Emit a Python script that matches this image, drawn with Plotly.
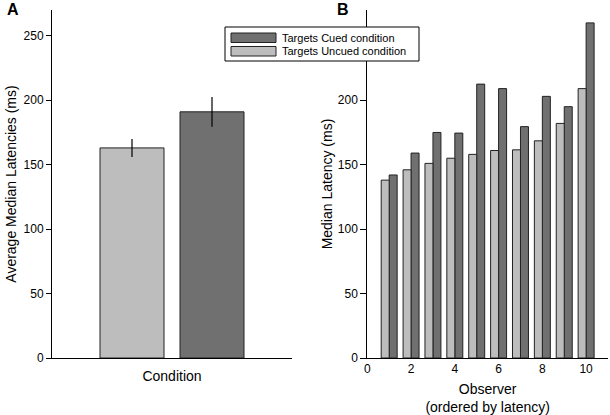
import plotly.graph_objects as go

# Panel A data
conditions = [1, 2]
avg_latency = [163, 191]
avg_err = [7, 11.5]

# Panel B data
observers = [1, 2, 3, 4, 5, 6, 7, 8, 9, 10]
uncued = [138, 146, 151, 155, 158, 161, 161.5, 168.5, 182, 209]
cued = [142, 159, 175, 174.5, 212.5, 209, 179.5, 203, 195, 260]
b_ticks = [0, 2, 4, 6, 8, 10]
y_ticks_a = [0, 50, 100, 150, 200, 250]
y_ticks_b = [0, 50, 100, 150, 200]  # 250 is hidden under the legend
legend_labels = ["Targets Cued condition", "Targets Uncued condition"]

LIGHT = "#bdbdbd"
DARK = "#707070"
EDGE = "#222222"
FONT = "Liberation Sans, Arial, sans-serif"

fig = go.Figure()

fig.add_trace(go.Bar(
    x=conditions, y=avg_latency, width=0.8,
    marker=dict(color=[LIGHT, DARK], line=dict(color=EDGE, width=1)),
    error_y=dict(type="data", array=avg_err, color="black", thickness=1.2, width=0),
    showlegend=False, xaxis="x", yaxis="y",
))

fig.add_trace(go.Bar(
    x=observers, y=cued, width=0.365, offset=0,
    name=legend_labels[0], showlegend=False,
    marker=dict(color=DARK, line=dict(color=EDGE, width=1)),
    xaxis="x2", yaxis="y2",
))
fig.add_trace(go.Bar(
    x=observers, y=uncued, width=0.365, offset=-0.365,
    name=legend_labels[1], showlegend=False,
    marker=dict(color=LIGHT, line=dict(color=EDGE, width=1)),
    xaxis="x2", yaxis="y2",
))

W, H = 610, 415
y_dom = [57 / H, 405 / H]

axis_common = dict(showgrid=False, zeroline=False, showline=True, automargin=False,
                   linecolor="black", linewidth=1,
                   tickfont=dict(size=12, color="black", family=FONT))

# manual legend (box + swatches + labels), in paper coordinates
def px(x):
    return x / W

def py(y):
    return 1 - y / H

shapes = [
    dict(type="rect", xref="paper", yref="paper", layer="above",
         x0=px(225), x1=px(419), y0=py(61), y1=py(27),
         fillcolor="white", line=dict(color="black", width=1)),
    dict(type="rect", xref="paper", yref="paper", layer="above",
         x0=px(231), x1=px(276), y0=py(42.5), y1=py(33),
         fillcolor=DARK, line=dict(color=EDGE, width=1)),
    dict(type="rect", xref="paper", yref="paper", layer="above",
         x0=px(231), x1=px(276), y0=py(56), y1=py(46.5),
         fillcolor=LIGHT, line=dict(color=EDGE, width=1)),
]

annotations = [
    dict(text="<b>A</b>", x=px(13), y=py(10), xref="paper", yref="paper",
         showarrow=False, font=dict(size=16, family=FONT), xanchor="center", yanchor="middle"),
    dict(text="<b>B</b>", x=px(342.5), y=py(9.5), xref="paper", yref="paper",
         showarrow=False, font=dict(size=16, family=FONT), xanchor="center", yanchor="middle"),
    dict(text=legend_labels[0], x=px(280), y=py(37.8), xref="paper", yref="paper",
         showarrow=False, font=dict(size=11, family=FONT), xanchor="left", yanchor="middle"),
    dict(text=legend_labels[1], x=px(280), y=py(51.5), xref="paper", yref="paper",
         showarrow=False, font=dict(size=11, family=FONT), xanchor="left", yanchor="middle"),
]

fig.update_layout(
    width=W, height=H,
    margin=dict(l=0, r=0, t=0, b=0),
    paper_bgcolor="white", plot_bgcolor="white",
    font=dict(family=FONT, color="black"),
    barmode="overlay",
    showlegend=False,
    xaxis=dict(domain=[px(52), px(292)], range=[0, 3], showticklabels=False,
               ticks="", anchor="y",
               title=dict(text="Condition", font=dict(size=14), standoff=13),
               **axis_common),
    yaxis=dict(domain=y_dom, range=[0, 270], tickvals=y_ticks_a, ticks="outside",
               ticklen=5, tickcolor="black", anchor="x",
               title=dict(text="Average Median Latencies (ms)", font=dict(size=14), standoff=3),
               **axis_common),
    xaxis2=dict(domain=[px(367.3), px(608)], range=[0, 11], tickvals=b_ticks,
                ticks="", anchor="y2",
                title=dict(text="Observer<br>(ordered by latency)", font=dict(size=14), standoff=9),
                **axis_common),
    yaxis2=dict(domain=y_dom, range=[0, 270], tickvals=y_ticks_b, ticks="outside",
                ticklen=6, tickcolor="black", anchor="x2",
                title=dict(text="Median Latency (ms)", font=dict(size=14), standoff=1),
                **axis_common),
    shapes=shapes,
    annotations=annotations,
)

fig.write_html("out.html", config={"displayModeBar": False},
               post_script="document.body.style.margin='0';")
